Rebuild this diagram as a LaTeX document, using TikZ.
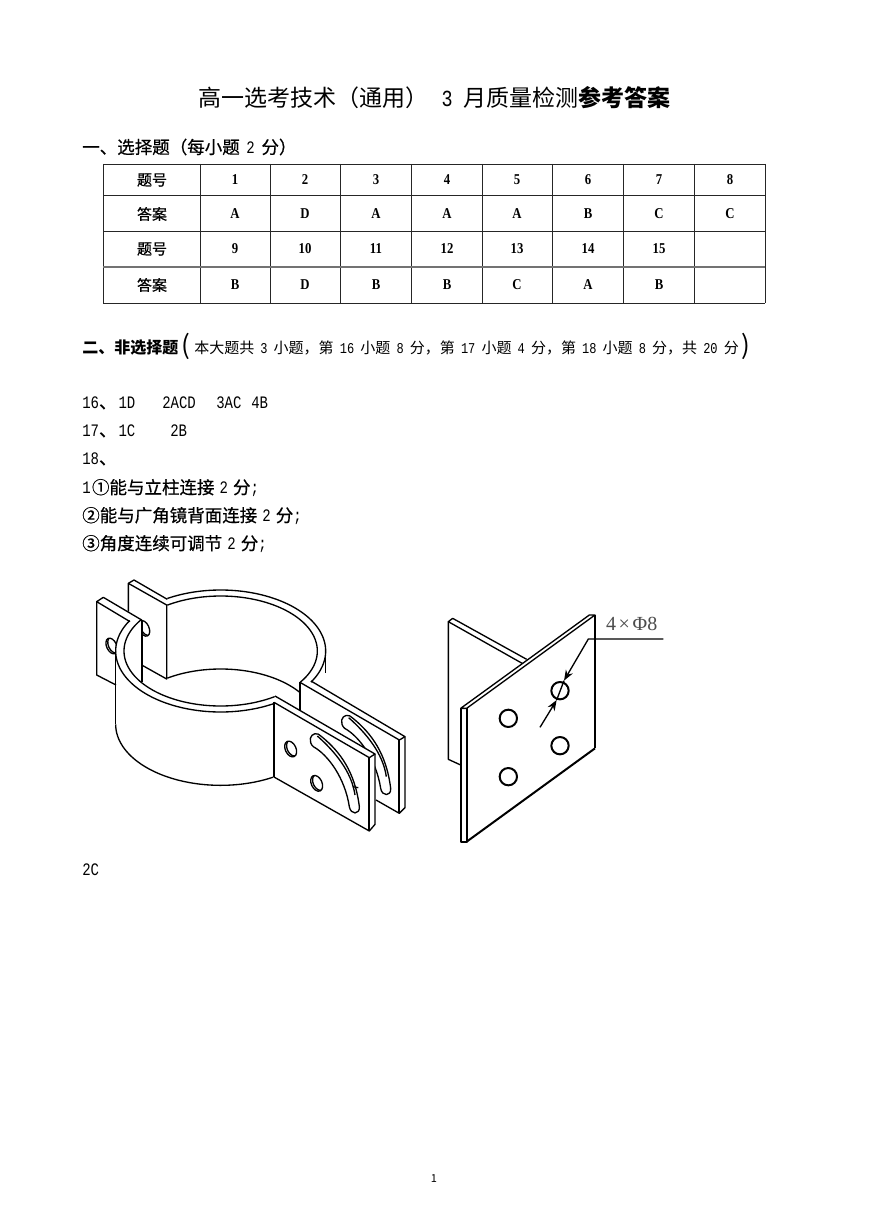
\documentclass[tikz,border=0pt]{standalone}
\usepackage{fontspec}
\setmainfont{Liberation Serif}
\newfontfamily\cjk{Noto Sans CJK SC}
\newfontfamily\cjkm[FakeBold=0.6]{Noto Sans CJK SC}
\newfontfamily\lat[FakeStretch=0.8]{Liberation Mono}
\newfontfamily\tbl[FakeStretch=0.85]{Liberation Serif}
\newcommand{\pxs}[1]{\fontsize{\dimexpr #1pt*3/4\relax}{\dimexpr #1pt*3/4\relax}\selectfont}
\newcommand{\nb}[2][3.8pt]{\hspace{#1}{\lat #2}\hspace{#1}}
\usetikzlibrary{arrows.meta}
\tikzset{
  gridline/.style={line width=0.7pt,draw=black!85},
  thicker/.style={line width=1.3pt,draw=black!55},
  cell/.style={font=\pxs{15}\tbl\bfseries,inner sep=0pt},
  headcell/.style={font=\pxs{15}\cjkm,inner sep=0pt},
  txt/.style={anchor=west,inner sep=0pt},
  part/.style={line width=1pt,line join=round},
  edge/.style={line width=1.5pt,line join=round},
  leader/.style={line width=1pt},
  tip/.style={-{Stealth[length=8pt,width=6pt]}}
}
\newcommand{\crescenthole}[5]{% x y rx ry rot
  \begin{scope}[rotate around={#5:(#1,#2)}]
    \draw[part] (#1,#2) ellipse [x radius=#3,y radius=#4];
    \begin{scope}
      \clip (#1,#2) ellipse [x radius=#3,y radius=#4];
      \draw[part] (#1+6,#2) ellipse [x radius=#3,y radius=#4];
    \end{scope}
  \end{scope}}
\begin{document}
\begin{tikzpicture}[x=0.75pt,y=-0.75pt]
\useasboundingbox (0,0) rectangle (868,1227);
\fill[white] (0,0) rectangle (868,1227);

% title
\node[txt] (title) at (198,98) {\pxs{23}\cjk 高一选考技术（通用）\hspace{10pt}{\lat 3}\hspace{8pt}月质量检测{\bfseries 参考答案}};

% section 1
\node[txt] (sec1) at (82,147) {\pxs{17.5}\cjkm 一、选择题（每小题\nb[5pt]{2}分）};

% table
\foreach \xx in {103,200,270,340,411,482,552,623,694,765}
  \draw[gridline] (\xx,164) -- (\xx,303);
\foreach \yy in {164,195,231,303}
  \draw[gridline] (103,\yy) -- (765,\yy);
\draw[thicker] (103,267) -- (765,267);

\foreach \nm/\yy/\tx in {ha/180/题号,hb/214/答案,hc/249/题号,hd/285/答案}
  \node[headcell] (\nm) at (152,\yy) {\tx};

\foreach \nm/\xx/\tx in {a1/235/1,a2/305/2,a3/376/3,a4/447/4,a5/517/5,a6/588/6,a7/659/7,a8/730/8}
  \node[cell] (\nm) at (\xx,180) {\tx};
\foreach \nm/\xx/\tx in {b1/235/A,b2/305/D,b3/376/A,b4/447/A,b5/517/A,b6/588/B,b7/659/C,b8/730/C}
  \node[cell] (\nm) at (\xx,214) {\tx};
\foreach \nm/\xx/\tx in {c1/235/9,c2/305/10,c3/376/11,c4/447/12,c5/517/13,c6/588/14,c7/659/15}
  \node[cell] (\nm) at (\xx,249) {\tx};
\foreach \nm/\xx/\tx in {d1/235/B,d2/305/D,d3/376/B,d4/447/B,d5/517/C,d6/588/A,d7/659/B}
  \node[cell] (\nm) at (\xx,285) {\tx};

% section 2
\node[txt] (sec2) at (82,348) {\pxs{16}\cjk\bfseries 二、非选择题};
\node[txt] (pl) at (181,346) {\pxs{26}\cjk\symbol{"0028}};
\node[txt] (sec2b) at (194,348) {\pxs{15}\cjk 本大题共\nb[4.6pt]{3}小题，第\nb[4.6pt]{16}小题\nb[4.6pt]{8}分，第\nb[4.6pt]{17}小题\nb[4.6pt]{4}分，第\nb[4.6pt]{18}小题\nb[4.6pt]{8}分，共\nb[4.6pt]{20}分};
\node[txt] (pr) at (741,346) {\pxs{26}\cjk\symbol{"0029}};

% answers
\node[txt] (l16a) at (82,403) {\pxs{17.5}\cjkm{\lat 16}、\hspace{1.5pt}{\lat 1D}};
\node[txt] (l16b) at (162,403) {\pxs{17.5}\lat 2ACD};
\node[txt] (l16c) at (216,403) {\pxs{17.5}\lat 3AC};
\node[txt] (l16d) at (251,403) {\pxs{17.5}\lat 4B};
\node[txt] (l17a) at (82,431) {\pxs{17.5}\cjkm{\lat 17}、\hspace{1.5pt}{\lat 1C}};
\node[txt] (l17b) at (170,431) {\pxs{17.5}\lat 2B};
\node[txt] (l18) at (82,459) {\pxs{17.5}\cjkm{\lat 18}、};
\node[txt] (r1) at (82,488) {\pxs{17.5}\cjkm{\lat 1}\hspace{1pt}①能与立柱连接\nb{2}分{\lat ;}};
\node[txt] (r2) at (82,516) {\pxs{17.5}\cjkm ②能与广角镜背面连接\nb{2}分{\lat ;}};
\node[txt] (r3) at (82,544) {\pxs{17.5}\cjkm ③角度连续可调节\nb{2}分{\lat ;}};
\node[txt] (l2c) at (82,870) {\pxs{17.5}\lat 2C};
\node[inner sep=0pt] (pg) at (434,1179) {\pxs{11}\cjk 1};

% clamp (coordinates in 1/3 px)
\begin{scope}[shift={(80,565)},x=0.25pt,y=-0.25pt]
  % second (rear) lug
  \draw[part] (145,140) -- (145,55) -- (162,45) -- (262,103);
  \draw[part] (145,55) -- (260,120) -- (260,342) -- (185,300);
  % first (rear) lug
  \draw[part] (185,165) -- (70,97) -- (50,110) -- (150,170);
  \draw[part] (50,110) -- (50,330) -- (108,360);
  \begin{scope}
    \clip (60,200) rectangle (108,290);
    \crescenthole{95}{243}{15}{25}{25}
  \end{scope}
  \begin{scope}
    \clip (186,150) rectangle (230,240);
    \crescenthole{192}{190}{15}{25}{25}
  \end{scope}
  % ring
  \draw[part] plot[domain=-30.6:120.5,samples=80] ({422+315*cos(\x)},{258-183*sin(\x)});
  \draw[part] plot[domain=-34.9:123.5,samples=80] ({422+290*cos(\x)},{258-165*sin(\x)});
  \draw[part] plot[domain=150:300,samples=80] ({422+315*cos(\x)},{258-183*sin(\x)});
  \draw[part] plot[domain=145:304,samples=80] ({422+290*cos(\x)},{258-165*sin(\x)});
  \draw[part] plot[domain=35:123.5,samples=60] ({422+290*cos(\x)},{477-165*sin(\x)});
  \draw[part] (107,265) -- (107,478);
  \draw[part] plot[domain=180:300,samples=80] ({422+315*cos(\x)},{478-183*sin(\x)});
  \draw[edge] (185,165) -- (185,350);
  \draw[part] (737,258) -- (737,325);
  % far plate
  \draw[part] (660,352) -- (660,436);
  \draw[part] (693,348) -- (975,515) -- (958,525) -- (660,352);
  \draw[part] (975,515) -- (975,728) -- (958,745) -- (888,705);
  \draw[edge] (958,525) -- (958,745);
  \begin{scope}[shift={(94,-55)}]
    \draw[part] (691,520) .. controls (695,505) and (712,500) .. (725,515)
      .. controls (780,560) and (825,620) .. (838,725)
      .. controls (840,750) and (812,750) .. (808,725)
      .. controls (795,640) and (745,570) .. (700,545)
      .. controls (692,538) and (690,530) .. (691,520);
    \draw[part] (712,513) .. controls (765,560) and (815,620) .. (825,690);
  \end{scope}
  % near plate
  \fill[white] (585,393) -- (885,567) -- (885,778) -- (868,798) -- (582,636) -- cycle;
  \draw[part] (585,393) -- (885,567) -- (868,578) -- (582,412);
  \draw[part] (885,567) -- (885,778) -- (868,798) -- (582,636);
  \draw[edge] (868,578) -- (868,798);
  \draw[edge] (582,412) -- (582,636);
  \crescenthole{632}{552}{16}{25}{25}
  \crescenthole{710}{655}{16}{25}{25}
  \draw[part] (691,520) .. controls (695,505) and (712,500) .. (725,515)
    .. controls (780,560) and (825,620) .. (838,725)
    .. controls (840,750) and (812,750) .. (808,725)
    .. controls (795,640) and (745,570) .. (700,545)
    .. controls (692,538) and (690,530) .. (691,520);
  \draw[part] (712,513) .. controls (765,560) and (815,620) .. (825,690);
  \draw[part] (818,665) -- (835,668);
\end{scope}

% bracket plate (coordinates in 1/3 px)
\begin{scope}[shift={(430,590)},x=0.25pt,y=-0.25pt]
  \draw[part] (290,208) -- (68,85) -- (55,95) -- (280,222);
  \draw[part] (55,95) -- (55,508) -- (92,525);
  \fill[white] (92,355) -- (478,75) -- (495,75) -- (495,475) -- (110,755) -- (92,755) -- cycle;
  \draw[part] (92,355) -- (478,75) -- (495,75) -- (110,355) -- (92,355);
  \draw[edge] (92,355) -- (92,755) -- (110,755) -- (110,355);
  \draw[edge] (110,755) -- (495,475);
  \draw[part] (495,75) -- (495,475);
  \foreach \nm/\cx/\cy in {h1/390/302,h2/235/385,h3/390/467,h4/235/560}
    \draw[edge] (\cx,\cy) ellipse [x radius=26,y radius=26];
  \coordinate (ldA) at (700,147);
  \coordinate (ldB) at (475,147);
  \coordinate (ldC) at (402,272);
  \coordinate (ldD) at (330,412);
  \coordinate (ldE) at (380,330);
  \draw[leader,tip] (ldA) -- (ldB) -- (ldC);
  \draw[leader,tip] (ldD) -- (ldE);
  \draw[leader] (ldC) -- (ldE);
  \node[inner sep=0pt,font=\pxs{20},text=black!70] (dim) at (605,102) {4\hspace{2pt}×\hspace{2pt}Φ8};
\end{scope}
\end{tikzpicture}
\end{document}
